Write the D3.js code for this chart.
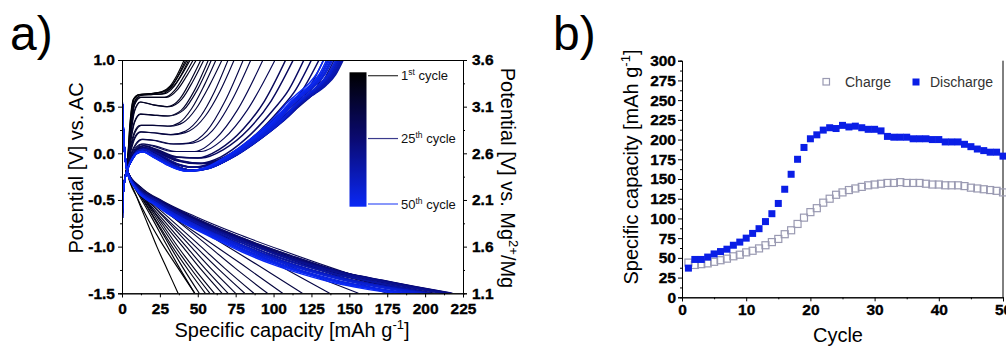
<!DOCTYPE html>
<html>
<head>
<meta charset="utf-8">
<script src="https://cdn.jsdelivr.net/npm/d3@7"></script>
<style>
	body { margin: 0; background: #fff; }
	svg { display: block; font-family: "Liberation Sans", Arial, sans-serif; }
	.tick text { font-weight: 700; }
</style>
</head>
<body>
<svg id="chart" width="1006" height="347"></svg>
<script>
const cycles = [1,2,3,4,5,6,7,8,9,10,11,12,13,14,15,16,17,18,19,20,21,22,23,24,25,26,27,28,29,30,31,32,33,34,35,36,37,38,39,40,41,42,43,44,45,46,47,48,49,50]

// panel b values, also the end capacity of each curve in panel a
const chargeCap = [44,41,42,43,45,47,49,52,54,57,59,62,66,70,74,80,85,93,101,108,113,120,125,130,133,136,138,140,142,143,144,145,145,146,145,145,145,144,143,143,142,142,142,141,139,138,137,136,135,133]
const dischargeCap = [37,48,48,51,55,58,61,66,70,75,81,87,96,106,119,137,156,175,190,201,206,212,215,214,218,216,217,215,213,213,211,204,203,203,203,201,201,201,200,200,197,197,197,194,191,188,186,184,184,179]

// potential profiles [capacity, V vs AC] for some cycles;
// the cycles in between use the profile of the last listed cycle, stretched to their capacity
const chargeShapes = [
	[1, [[0,-1.5],[0.2,-0.65],[1.2,-0.35],[3.5,-0.12],[5.5,0.3],[8,0.58],[12,0.63],[20,0.64],[28,0.66],[34,0.72],[39,0.84],[44,1.0]]],
	[4, [[0,-1.5],[0.2,-0.65],[1.2,-0.35],[3.5,-0.12],[5.5,0.25],[8,0.55],[12,0.62],[20,0.63],[27,0.64],[33,0.72],[38,0.85],[43,1.0]]],
	[6, [[0,-1.5],[0.2,-0.65],[1.2,-0.35],[3.5,-0.12],[5.5,0.22],[8,0.52],[12,0.6],[20,0.6],[28,0.6],[35,0.68],[41,0.83],[47,1.0]]],
	[8, [[0,-1.5],[0.2,-0.65],[1.2,-0.35],[3.5,-0.13],[5.5,0.18],[8,0.45],[12,0.55],[20,0.52],[30,0.5],[38,0.58],[45,0.77],[52,1.0]]],
	[10, [[0,-1.5],[0.2,-0.65],[1.2,-0.35],[3.5,-0.13],[5.5,0.12],[8,0.33],[12,0.42],[20,0.41],[30,0.4],[39,0.46],[48,0.68],[57,1.0]]],
	[12, [[0,-1.5],[0.2,-0.65],[1.2,-0.35],[3.5,-0.14],[5.5,0.06],[8,0.22],[12,0.3],[20,0.3],[30,0.29],[38,0.33],[46,0.48],[54,0.72],[62,1.0]]],
	[14, [[0,-1.5],[0.2,-0.65],[1.2,-0.35],[3.5,-0.15],[5.5,0.02],[8,0.16],[12,0.23],[20,0.22],[32,0.2],[42,0.24],[52,0.4],[61,0.66],[70,1.0]]],
	[16, [[0,-1.5],[0.2,-0.65],[1.2,-0.35],[3.5,-0.15],[6,0.0],[9,0.1],[13,0.15],[20,0.14],[32,0.1],[44,0.11],[56,0.24],[68,0.56],[80,1.0]]],
	[18, [[0,-1.5],[0.2,-0.65],[1.2,-0.35],[3.5,-0.16],[6,-0.03],[9,0.06],[13,0.1],[20,0.08],[33,0.02],[48,0.02],[62,0.16],[76,0.46],[93,1.0]]],
	[20, [[0,-1.5],[0.2,-0.65],[1.2,-0.35],[3.5,-0.16],[6,-0.05],[10,0.05],[14,0.08],[22,0.04],[35,-0.04],[50,-0.05],[64,0.04],[80,0.26],[94,0.56],[108,1.0]]],
	[22, [[0,-1.5],[0.2,-0.65],[1.2,-0.35],[3.5,-0.17],[6,-0.06],[10,0.04],[14,0.06],[22,0.02],[36,-0.08],[50,-0.11],[65,-0.04],[82,0.16],[100,0.47],[110,0.68],[120,1.0]]],
	[25, [[0,-1.5],[0.2,-0.65],[1.2,-0.35],[3.5,-0.17],[6,-0.07],[10,0.03],[14,0.05],[22,0.0],[34,-0.11],[46,-0.15],[60,-0.1],[75,0.03],[92,0.24],[108,0.48],[116,0.6],[124,0.72],[133,1.0]]],
	[30, [[0,-1.5],[0.2,-0.65],[1.2,-0.35],[3.5,-0.18],[6,-0.08],[10,0.02],[14,0.04],[22,-0.02],[34,-0.13],[45,-0.18],[58,-0.15],[72,-0.04],[90,0.16],[108,0.4],[117,0.55],[123,0.62],[132,0.73],[138,0.84],[143,1.0]]],
	[40, [[0,-1.5],[0.2,-0.65],[1.2,-0.35],[3.5,-0.18],[6,-0.09],[10,0.0],[14,0.02],[22,-0.04],[34,-0.14],[45,-0.19],[58,-0.16],[72,-0.05],[90,0.14],[108,0.38],[117,0.54],[123,0.62],[132,0.74],[138,0.85],[143,1.0]]]
]

const dischargeShapes = [
	[1, [[0,0.62],[1.2,0.15],[3.5,-0.2],[10,-0.48],[17,-0.76],[23,-1.0],[30,-1.25],[37,-1.5]]],
	[2, [[0,0.62],[1.2,0.15],[3.5,-0.2],[8,-0.4],[15,-0.64],[25,-0.93],[37,-1.23],[48,-1.5]]],
	[3, [[0,0.62],[1.2,0.15],[3.5,-0.2],[8,-0.36],[13,-0.5],[20,-0.7],[29,-0.97],[38,-1.23],[48,-1.5]]],
	[5, [[0,0.62],[1.2,0.15],[3.5,-0.2],[9,-0.37],[15,-0.52],[24,-0.76],[34,-1.02],[45,-1.28],[55,-1.5]]],
	[8, [[0,0.62],[1.2,0.15],[3.5,-0.2],[9,-0.37],[16,-0.52],[27,-0.74],[40,-1.0],[53,-1.26],[66,-1.5]]],
	[11, [[0,0.62],[1.2,0.15],[3.5,-0.2],[10,-0.37],[18,-0.52],[30,-0.71],[46,-0.96],[63,-1.23],[81,-1.5]]],
	[14, [[0,0.62],[1.2,0.15],[3.5,-0.2],[10,-0.37],[20,-0.52],[35,-0.7],[55,-0.92],[80,-1.2],[106,-1.5]]],
	[17, [[0,0.62],[1.2,0.15],[3.5,-0.19],[10,-0.36],[22,-0.51],[40,-0.68],[62,-0.86],[88,-1.05],[120,-1.27],[156,-1.5]]],
	[20, [[0,0.62],[1.2,0.15],[3.5,-0.18],[10,-0.36],[23,-0.5],[41,-0.66],[63,-0.83],[85,-0.98],[110,-1.13],[135,-1.27],[160,-1.37],[182,-1.44],[201,-1.5]]],
	[25, [[0,0.62],[1.2,0.15],[3.5,-0.18],[10,-0.36],[23,-0.5],[41,-0.66],[63,-0.82],[85,-0.96],[106,-1.09],[128,-1.2],[150,-1.29],[172,-1.36],[194,-1.43],[218,-1.5]]],
	[35, [[0,0.62],[1.2,0.15],[3.5,-0.19],[10,-0.38],[23,-0.53],[41,-0.7],[63,-0.87],[85,-1.02],[106,-1.15],[128,-1.26],[150,-1.35],[172,-1.42],[203,-1.5]]],
	[45, [[0,0.62],[1.2,0.15],[3.5,-0.2],[10,-0.39],[23,-0.55],[41,-0.73],[63,-0.9],[85,-1.06],[106,-1.19],[128,-1.3],[150,-1.39],[170,-1.45],[191,-1.5]]]
]

const potTicks = [-1.5, -1.0, -0.5, 0.0, 0.5, 1.0]
const potMinor = [-1.25, -0.75, -0.25, 0.25, 0.75]
const mgOffset = 2.6
const capTicks = [0, 25, 50, 75, 100, 125, 150, 175, 200, 225]
const capMinor = [12.5, 37.5, 62.5, 87.5, 112.5, 137.5, 162.5, 187.5, 212.5]
const cycleTicks = [0, 10, 20, 30, 40, 50]
const cycleMinor = [5, 15, 25, 35, 45]
const specTicks = [0, 25, 50, 75, 100, 125, 150, 175, 200, 225, 250, 275, 300]
const specMinor = [12.5, 37.5, 62.5, 87.5, 112.5, 137.5, 162.5, 187.5, 212.5, 237.5, 262.5, 287.5]
const legendCycles = [[1, 'st'], [25, 'th'], [50, 'th']]

const svg = d3.select('#chart')

function styleAxis(g) {
	g.attr('font-family', null).attr('font-size', null)
	g.select('.domain').attr('stroke', '#000')
	g.selectAll('.tick line').attr('stroke', '#000')
	g.selectAll('.tick text')
		.attr('fill', '#000')
		.attr('stroke', '#000')
		.attr('stroke-width', 0.35)
		.style('font-size', '15.5px')
		.style('font-weight', '700')
}

// ---------- panel a ----------
const ax = d3.scaleLinear().domain([0, 225]).range([122, 463])
const ay = d3.scaleLinear().domain([-1.5, 1.0]).range([293.3, 60])
const color = d3.scaleLinear().domain([1, 25, 50]).range(['#000000', '#0a0a70', '#0a28f5'])

function shapeFor(shapes, cycle) {
	let s = shapes[0]
	for (const sh of shapes) if (sh[0] <= cycle) s = sh
	return s[1]
}

function curvePoints(shapes, cap, cycle) {
	const pts = shapeFor(shapes, cycle)
	const k = cap / pts[pts.length - 1][0]
	return pts.map(([q, v]) => [q > 4 ? q * k : q, v])
}

svg.append('clipPath').attr('id', 'clipA')
	.append('rect').attr('x', 122).attr('y', 60).attr('width', 341).attr('height', 233.3)

const line = d3.line()
	.x((d) => ax(d[0]))
	.y((d) => ay(d[1]))
	.curve(d3.curveMonotoneX)

const curves = svg.append('g').attr('clip-path', 'url(#clipA)')
cycles.forEach((c, i) => {
	const w = c < 20 ? 1.15 : 1.5
	curves.append('path')
		.attr('fill', 'none')
		.attr('stroke', color(c))
		.attr('stroke-width', w)
		.attr('d', line(curvePoints(dischargeShapes, dischargeCap[i], c)))
	curves.append('path')
		.attr('fill', 'none')
		.attr('stroke', color(c))
		.attr('stroke-width', w)
		.attr('d', line(curvePoints(chargeShapes, chargeCap[i], c)))
})

svg.append('g').attr('transform', 'translate(122,0)')
	.call(d3.axisLeft(ay).tickValues(potTicks).tickSize(4).tickPadding(3).tickFormat((d) => d.toFixed(1)))
	.call(styleAxis)
svg.append('g').attr('transform', 'translate(122,0)')
	.call(d3.axisLeft(ay).tickValues(potMinor).tickSize(2).tickFormat(''))
	.call(styleAxis)
svg.append('g').attr('transform', 'translate(463,0)')
	.call(d3.axisRight(ay).tickValues(potTicks).tickSize(4).tickPadding(5).tickFormat((d) => (d + mgOffset).toFixed(1)))
	.call(styleAxis)
svg.append('g').attr('transform', 'translate(463,0)')
	.call(d3.axisRight(ay).tickValues(potMinor).tickSize(2).tickFormat(''))
	.call(styleAxis)
svg.append('g').attr('transform', 'translate(0,293.3)')
	.call(d3.axisBottom(ax).tickValues(capTicks).tickSize(4).tickPadding(6).tickFormat(d3.format('d')))
	.call(styleAxis)
svg.append('g').attr('transform', 'translate(0,293.3)')
	.call(d3.axisBottom(ax).tickValues(capMinor).tickSize(2).tickFormat(''))
	.call(styleAxis)
svg.append('line')
	.attr('x1', 122).attr('x2', 463).attr('y1', 60.5).attr('y2', 60.5)
	.attr('stroke', '#000')

// colour bar legend
const grad = svg.append('defs').append('linearGradient')
	.attr('id', 'cbar').attr('x1', 0).attr('x2', 0).attr('y1', 0).attr('y2', 1)
grad.selectAll('stop')
	.data(cycles)
	.join('stop')
	.attr('offset', (d) => (d - 1) / 49)
	.attr('stop-color', (d) => color(d))

const cbY = d3.scaleLinear().domain([1, 50]).range([75.7, 204])
svg.append('rect')
	.attr('x', 349.5).attr('y', 72.3).attr('width', 17).attr('height', 134.4)
	.attr('fill', 'url(#cbar)')

const legA = svg.append('g')
	.selectAll('g')
	.data(legendCycles)
	.join('g')
	.attr('transform', (d) => `translate(0,${cbY(d[0])})`)
legA.append('line')
	.attr('x1', 368).attr('x2', 398)
	.attr('stroke', (d) => color(d[0]))
	.attr('stroke-opacity', 0.8)
	.attr('stroke-width', 1.2)
const legText = legA.append('text')
	.attr('x', 401).attr('y', 4.5)
	.attr('fill', '#111')
	.style('font-size', '13px')
legText.append('tspan').text((d) => d[0])
legText.append('tspan').attr('dy', -5).style('font-size', '8.5px').text((d) => d[1])
legText.append('tspan').attr('dy', 5).text(' cycle')

// titles
svg.append('text')
	.attr('x', 10).attr('y', 50)
	.style('font-size', '48px')
	.text('a)')

svg.append('text')
	.attr('x', 292).attr('y', 337)
	.attr('text-anchor', 'middle')
	.style('font-size', '20px')
	.call((t) => {
		t.append('tspan').text('Specific capacity [mAh g')
		t.append('tspan').attr('dy', -8).style('font-size', '13px').text('-1')
		t.append('tspan').attr('dy', 8).text(']')
	})

svg.append('text')
	.attr('transform', 'translate(82.5,168) rotate(-90)')
	.attr('text-anchor', 'middle')
	.style('font-size', '20px')
	.text('Potential [V] vs. AC')

svg.append('text')
	.attr('transform', 'translate(501,178) rotate(90)')
	.attr('text-anchor', 'middle')
	.style('font-size', '20px')
	.call((t) => {
		t.append('tspan').text('Potential [V] vs. Mg')
		t.append('tspan').attr('dy', -8).style('font-size', '13px').text('2+')
		t.append('tspan').attr('dy', 8).text('/Mg')
	})

// ---------- panel b ----------
const bx = d3.scaleLinear().domain([0, 50]).range([682, 1003])
const by = d3.scaleLinear().domain([0, 300]).range([297.3, 60.7])

svg.append('g').attr('transform', 'translate(682,0)')
	.call(d3.axisLeft(by).tickValues(specTicks).tickSize(4).tickPadding(2).tickFormat(d3.format('d')))
	.call(styleAxis)
svg.append('g').attr('transform', 'translate(682,0)')
	.call(d3.axisLeft(by).tickValues(specMinor).tickSize(2).tickFormat(''))
	.call(styleAxis)
svg.append('g').attr('transform', 'translate(0,297.3)')
	.call(d3.axisBottom(bx).tickValues(cycleTicks).tickSize(4).tickPadding(3).tickFormat(d3.format('d')))
	.call(styleAxis)
svg.append('g').attr('transform', 'translate(0,297.3)')
	.call(d3.axisBottom(bx).tickValues(cycleMinor).tickSize(2).tickFormat(''))
	.call(styleAxis)
svg.append('line')
	.attr('x1', 1003).attr('x2', 1003).attr('y1', 60.7).attr('y2', 297.3)
	.attr('stroke', '#000')

const ms = 7
svg.append('g')
	.selectAll('rect')
	.data(cycles)
	.join('rect')
	.attr('x', (d) => bx(d) - ms / 2)
	.attr('y', (d, i) => by(chargeCap[i]) - ms / 2)
	.attr('width', ms).attr('height', ms)
	.attr('fill', 'none')
	.attr('stroke', '#9a9ab2')
	.attr('stroke-width', 1.2)

svg.append('g')
	.selectAll('rect')
	.data(cycles)
	.join('rect')
	.attr('x', (d) => bx(d) - ms / 2)
	.attr('y', (d, i) => by(dischargeCap[i]) - ms / 2)
	.attr('width', ms).attr('height', ms)
	.attr('fill', '#0a1ee6')

// legend b
svg.append('rect')
	.attr('x', 823).attr('y', 78.5).attr('width', 6.5).attr('height', 6.5)
	.attr('fill', 'none').attr('stroke', '#9a9ab2').attr('stroke-width', 1.2)
svg.append('text')
	.attr('x', 845).attr('y', 86.5)
	.attr('fill', '#333')
	.style('font-size', '14px')
	.text('Charge')
svg.append('rect')
	.attr('x', 912.5).attr('y', 78.5).attr('width', 7).attr('height', 7)
	.attr('fill', '#0a1ee6')
svg.append('text')
	.attr('x', 930).attr('y', 86.5)
	.attr('fill', '#333')
	.style('font-size', '14px')
	.text('Discharge')

svg.append('text')
	.attr('x', 553).attr('y', 50)
	.style('font-size', '48px')
	.text('b)')

svg.append('text')
	.attr('transform', 'translate(637.5,167) rotate(-90)')
	.attr('text-anchor', 'middle')
	.style('font-size', '20px')
	.call((t) => {
		t.append('tspan').text('Specific capacity [mAh g')
		t.append('tspan').attr('dy', -8).style('font-size', '13px').text('-1')
		t.append('tspan').attr('dy', 8).text(']')
	})

svg.append('text')
	.attr('x', 838).attr('y', 341.5)
	.attr('text-anchor', 'middle')
	.style('font-size', '20px')
	.text('Cycle')
</script>
</body>
</html>
